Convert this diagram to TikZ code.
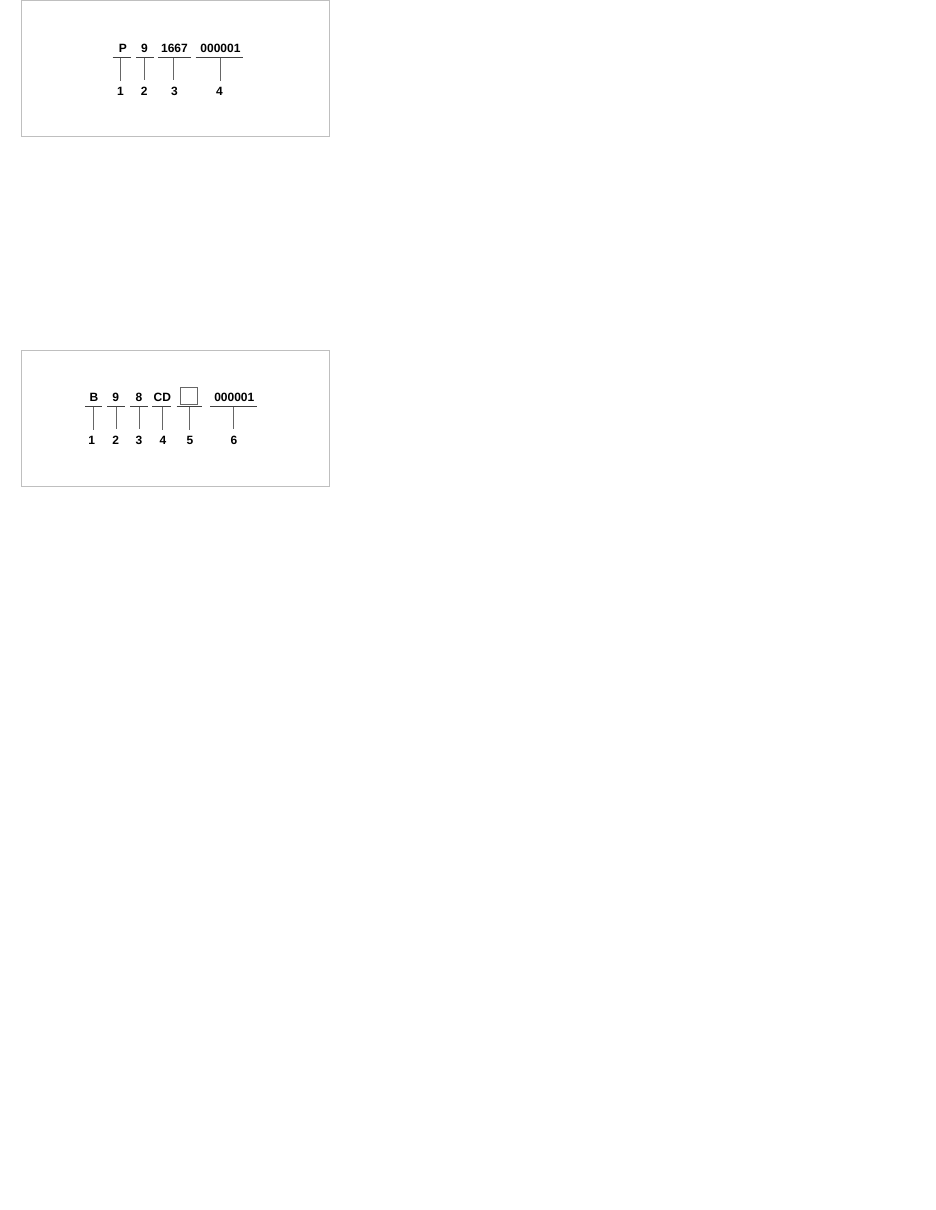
\documentclass[tikz,border=0pt]{standalone}
\usepackage{fontspec}
\setmainfont{Liberation Sans}
\begin{document}
\begin{tikzpicture}[x=1pt,y=-1pt,
  panel/.style={draw=black!25,line width=0.8pt},
  code/.style={font=\fontsize{12}{14}\selectfont\bfseries,inner sep=0pt,anchor=base,text=black},
  num/.style={font=\fontsize{12}{14}\selectfont\bfseries,inner sep=0pt,anchor=base,text=black},
  uline/.style={draw=black!75,line width=1.4pt},
  lead/.style={draw=black!60,line width=0.6pt,shorten >=6pt}]
\useasboundingbox (0,0) rectangle (935,1210);
\fill[white] (0,0) rectangle (935,1210);
% ---------- panel 1
\draw[panel] (21.5,0.5) rectangle (329.5,136.5);
\node[code] (pP) at (123,52.5) {P};
\node[code] (p9) at (144.5,52.5) {9};
\node[code] (p1667) at (174.5,52.5) {1667};
\node[code] (p0) at (220.5,52.5) {000001};
\coordinate (a1l) at (112.7,57.7); \coordinate (a1r) at (130.7,57.7);
\coordinate (a2l) at (136,57.7);   \coordinate (a2r) at (154,57.7);
\coordinate (a3l) at (158.3,57.7); \coordinate (a3r) at (190.7,57.7);
\coordinate (a4l) at (195.7,57.7); \coordinate (a4r) at (243.3,57.7);
\foreach \i in {1,...,4}{\draw[uline] (a\i l) -- (a\i r);}
\coordinate (av1) at (120.7,57.7);
\coordinate (av2) at (144.3,57.7);
\coordinate (av3) at (173.3,57.7);
\coordinate (av4) at (220.3,57.7);
\node[num] (an1) at (120.5,95) {1};
\node[num] (an2) at (144.3,95) {2};
\node[num] (an3) at (174.5,95) {3};
\node[num] (an4) at (219.5,95) {4};
\foreach \i in {1,...,4}{\draw[lead] (av\i) -- (av\i |- an\i.north);}
% ---------- panel 2
\draw[panel] (21.5,350.5) rectangle (329.5,486.5);
\node[code] (qB) at (94,401.5) {B};
\node[code] (q9) at (115.7,401.5) {9};
\node[code] (q8) at (139,401.5) {8};
\node[code] (qCD) at (162.3,401.5) {CD};
\node[draw=black!60,line width=0.7pt,minimum width=17pt,minimum height=16.7pt,inner sep=0pt] (qbox) at (188.8,395.7) {};
\node[code] (q0) at (234.3,401.5) {000001};
\coordinate (b1l) at (85,406.7);    \coordinate (b1r) at (102.3,406.7);
\coordinate (b2l) at (107.3,406.7); \coordinate (b2r) at (125.3,406.7);
\coordinate (b3l) at (130,406.7);   \coordinate (b3r) at (148,406.7);
\coordinate (b4l) at (152,406.7);   \coordinate (b4r) at (171,406.7);
\coordinate (b5l) at (176.7,406.7); \coordinate (b5r) at (202.3,406.7);
\coordinate (b6l) at (210,406.7);   \coordinate (b6r) at (257.3,406.7);
\foreach \i in {1,...,6}{\draw[uline] (b\i l) -- (b\i r);}
\coordinate (bv1) at (93,406.7);
\coordinate (bv2) at (116.3,406.7);
\coordinate (bv3) at (139,406.7);
\coordinate (bv4) at (162.3,406.7);
\coordinate (bv5) at (189.7,406.7);
\coordinate (bv6) at (233.7,406.7);
\node[num] (bn1) at (91.7,444) {1};
\node[num] (bn2) at (115.7,444) {2};
\node[num] (bn3) at (139,444) {3};
\node[num] (bn4) at (163,444) {4};
\node[num] (bn5) at (190,444) {5};
\node[num] (bn6) at (234,444) {6};
\foreach \i in {1,...,6}{\draw[lead] (bv\i) -- (bv\i |- bn\i.north);}
\end{tikzpicture}
\end{document}
